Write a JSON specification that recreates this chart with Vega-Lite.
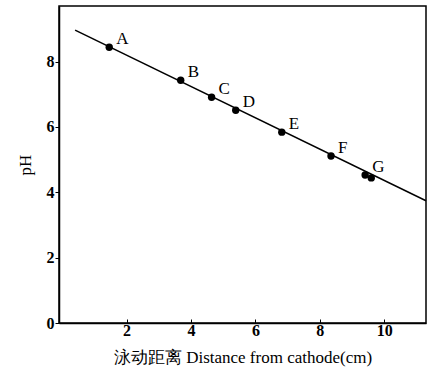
{
  "$schema": "https://vega.github.io/schema/vega-lite/v6.json",
  "width": 367,
  "height": 317,
  "autosize": {"type": "none"},
  "padding": {"left": 59, "top": 6, "right": 3, "bottom": 58},
  "background": "white",
  "config": {
    "view": {"stroke": "black", "strokeWidth": 1.5},
    "axis": {
      "grid": false,
      "domainColor": "black",
      "domainWidth": 1.5,
      "tickColor": "black",
      "labelColor": "black",
      "titleColor": "black",
      "labelFont": "Liberation Serif",
      "titleFont": "Liberation Serif",
      "labelFontSize": 16,
      "labelFontWeight": "bold",
      "titleFontSize": 17,
      "titleFontWeight": "normal"
    }
  },
  "datasets": {
    "pts": [
      {"dist": 1.46, "pH": 8.44, "label": "A"},
      {"dist": 3.68, "pH": 7.43, "label": "B"},
      {"dist": 4.64, "pH": 6.91, "label": "C"},
      {"dist": 5.39, "pH": 6.51, "label": "D"},
      {"dist": 6.82, "pH": 5.84, "label": "E"},
      {"dist": 8.35, "pH": 5.11, "label": "F"},
      {"dist": 9.41, "pH": 4.53, "label": "G"},
      {"dist": 9.6, "pH": 4.44, "label": ""}
    ],
    "fit": [
      {"dist": 0.4, "pH": 8.96},
      {"dist": 11.3, "pH": 3.74}
    ]
  },
  "layer": [
    {
      "data": {"name": "fit"},
      "mark": {"type": "line", "color": "black", "strokeWidth": 1.5},
      "encoding": {
        "x": {
          "field": "dist", "type": "quantitative",
          "scale": {"domain": [-0.1, 11.3], "nice": false, "zero": false},
          "axis": {
            "values": [2, 4, 6, 8, 10],
            "title": "泳动距离 Distance from cathode(cm)",
            "titlePadding": 11,
            "labelPadding": 3,
            "tickSize": -4
          }
        },
        "y": {
          "field": "pH", "type": "quantitative",
          "scale": {"domain": [0, 9.7], "nice": false},
          "axis": {
            "values": [0, 2, 4, 6, 8],
            "title": "pH",
            "titlePadding": 12,
            "tickSize": 4,
            "labelPadding": 1
          }
        }
      }
    },
    {
      "data": {"name": "pts"},
      "mark": {"type": "point", "filled": true, "color": "black", "size": 55, "opacity": 1},
      "encoding": {
        "x": {"field": "dist", "type": "quantitative"},
        "y": {"field": "pH", "type": "quantitative"}
      }
    },
    {
      "data": {"name": "pts"},
      "mark": {"type": "text", "align": "left", "baseline": "middle", "dx": 7, "dy": -8, "font": "Liberation Serif", "fontSize": 17, "color": "black"},
      "encoding": {
        "x": {"field": "dist", "type": "quantitative"},
        "y": {"field": "pH", "type": "quantitative"},
        "text": {"field": "label"}
      }
    }
  ]
}
